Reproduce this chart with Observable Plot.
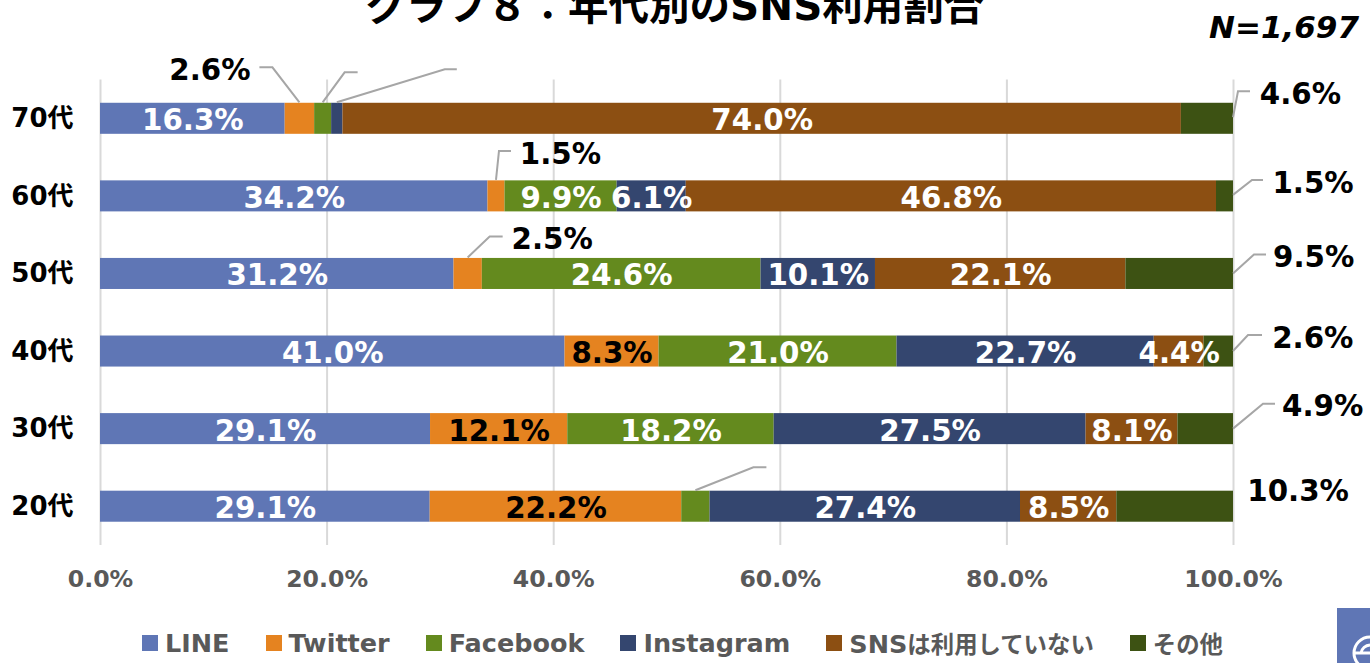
<!DOCTYPE html>
<html><head><meta charset="utf-8">
<script src="https://cdn.jsdelivr.net/npm/d3@7"></script>
<script src="https://cdn.jsdelivr.net/npm/@observablehq/plot@0.6"></script>
<style>
html,body{margin:0;padding:0;background:#fff;width:1370px;height:663px;overflow:hidden;position:relative;font-family:"DejaVu Sans","Noto Sans CJK JP",sans-serif}
#title{position:absolute;left:0;width:1350px;top:-27px;text-align:center;font-size:40.5px;font-weight:700;color:#000;white-space:nowrap}
#n{position:absolute;right:11px;top:9px;font-size:31px;font-weight:700;font-style:italic;color:#000}
#legend{position:absolute;left:142px;top:626px;display:flex;font-size:25.5px;font-weight:700;color:#595959;white-space:nowrap}
#legend .it{display:flex;align-items:center;margin-right:36px}
#legend i{display:block;width:16px;height:16px;margin-right:7px}
#legend .cjk{font-size:23.4px}
#badge{position:absolute;left:1337px;top:608px;width:33px;height:55px;background:#5f76b5;overflow:hidden}
#chart{position:absolute;left:0;top:0}
</style></head><body>
<div id="chart"></div>
<div id="title">グラフ８：年代別のSNS利用割合</div>
<div id="n">N=1,697</div>
<div id="legend"></div>
<div id="badge"><svg width="33" height="55"><circle cx="33" cy="45" r="16" fill="none" stroke="#fff" stroke-width="3"/><path d="M17 45H33M33 37A10 10 0 0 0 24 45" fill="none" stroke="#fff" stroke-width="3"/></svg></div>
<script>
const ages = ["70代","60代","50代","40代","30代","20代"];
const seriesNames = ["LINE","Twitter","Facebook","Instagram","SNSは利用していない","その他"];
const colors = ["#5f76b5","#e58320","#648a1e","#34466f","#8c4f12","#3d5213"];
const LINE = [16.3,34.2,31.2,41.0,29.1,29.1];
const Twitter = [2.6,1.5,2.5,8.3,12.1,22.2];
const Facebook = [1.5,9.9,24.6,21.0,18.2,2.5];
const Instagram = [1.0,6.1,10.1,22.7,27.5,27.4];
const NoSNS = [74.0,46.8,22.1,4.4,8.1,8.5];
const Other = [4.6,1.5,9.5,2.6,4.9,10.3];
const xTicks = [0,0.2,0.4,0.6,0.8,1];
const allValues = [LINE,Twitter,Facebook,Instagram,NoSNS,Other];

const rows = seriesNames.flatMap((s,si)=>ages.map((a,ai)=>({series:s,si,age:a,ai,value:allValues[si][ai]})));

// segments whose value sits outside the bar, or that have only an empty leader line.
// Offsets are pixels from the segment's anchor on the bar's centre line.
const outside = [
  {age:"70代",series:"Twitter",text:true,dx:-90,dy:-48,pts:[[0,-16],[-27,-51],[-40,-51]]},
  {age:"70代",series:"Facebook",text:false,pts:[[0,-16],[22,-46],[35,-46]]},
  {age:"70代",series:"Instagram",text:false,pts:[[0,-16],[108,-49],[120,-49]]},
  {age:"70代",series:"その他",text:true,dx:93,dy:-24,anchorEnd:true,pts:[[0,-1],[5,-27],[17,-27]]},
  {age:"60代",series:"Twitter",text:true,dx:64,dy:-42,pts:[[0,-16],[3,-45],[15,-45]]},
  {age:"60代",series:"その他",text:true,dx:88,dy:-13,anchorEnd:true,pts:[[0,-1],[19,-16],[30,-16]]},
  {age:"50代",series:"Twitter",text:true,dx:84,dy:-34,pts:[[0,-16],[22,-37],[35,-37]]},
  {age:"50代",series:"その他",text:true,dx:134,dy:-16,anchorEnd:true,pts:[[0,0],[21,-19],[33,-19]]},
  {age:"40代",series:"その他",text:true,dx:94,dy:-13,anchorEnd:true,pts:[[0,0],[15,-16],[29,-16]]},
  {age:"30代",series:"その他",text:true,dx:117,dy:-23,anchorEnd:true,pts:[[0,0],[30,-25],[42,-25]]},
  {age:"20代",series:"Facebook",text:false,pts:[[0,-16],[58,-39],[71,-39]]},
  {age:"20代",series:"その他",text:true,dx:123,dy:-15,pts:null}
];
const outsideKey = new Set(outside.map(o=>o.age+"|"+o.series));
function frac(age,series){
  const ai=ages.indexOf(age), si=seriesNames.indexOf(series);
  const tot=d3.sum(allValues,v=>v[ai]);
  const before=d3.sum(allValues.slice(0,si),v=>v[ai]);
  const own=allValues[si][ai];
  return {mid:(before+own/2)/tot, end:(before+own)/tot, value:own};
}
const FONT='"DejaVu Sans","Noto Sans CJK JP",sans-serif';
const stackOpts={x:"value",y:"age",z:"series",order:seriesNames,offset:"normalize"};

const plot = Plot.plot({
  width:1370,height:600,
  marginLeft:100,marginRight:137,marginTop:79.5,marginBottom:55,
  style:{fontFamily:FONT,background:"transparent",overflow:"visible"},
  x:{domain:[0,1],ticks:xTicks,label:null,tickFormat:d3.format(".1%")},
  y:{domain:ages,paddingInner:0.6,paddingOuter:0.3,align:0.5,round:false,label:null},
  color:{domain:seriesNames,range:colors},
  marks:[
    Plot.gridX(xTicks,{stroke:"#d9d9d9",strokeWidth:2,strokeOpacity:1}),
    Plot.axisX({ticks:xTicks,tickFormat:d3.format(".1%"),tickSize:0,tickPadding:25,fontSize:23.6,fontWeight:700,fill:"#595959",label:null}),
    Plot.axisY({tickSize:0,tickPadding:27,fontSize:26,fontWeight:700,fill:"#000",label:null}),
    Plot.barX(rows,Plot.stackX({...stackOpts,fill:"series"})),
    Plot.text(rows,Plot.stackX({...stackOpts,
      text:d=>outsideKey.has(d.age+"|"+d.series)?null:d.value.toFixed(1)+"%",
      fill:d=>d.series==="Twitter"?"#000":"#fff",dy:2,fontSize:29.3,fontWeight:700})),
    ...outside.filter(o=>o.text).map(o=>{
      const f=frac(o.age,o.series);
      return Plot.text([o],{x:()=>f.mid,y:"age",dx:o.dx,dy:o.dy,text:()=>f.value.toFixed(1)+"%",fontSize:29.3,fontWeight:700,fill:"#000"});
    }),
    (index,scales)=>{
      const g=d3.create("svg:g").attr("fill","none").attr("stroke","#a6a6a6").attr("stroke-width",2);
      const bw=scales.y.bandwidth();
      for(const o of outside){
        if(!o.pts) continue;
        const f=frac(o.age,o.series);
        const x0=scales.x(o.anchorEnd?f.end:f.mid);
        const y0=scales.y(o.age)+bw/2;
        g.append("path").attr("d","M"+o.pts.map(p=>[x0+p[0],y0+p[1]].join(",")).join("L"));
      }
      return g.node();
    }
  ]
});
document.getElementById("chart").append(plot);
const lg=d3.select("#legend");
seriesNames.forEach((s,i)=>{
  const it=lg.append("div").attr("class","it");
  it.append("i").style("background",colors[i]);
  const sp=it.append("span");
  const m=s.match(/^([A-Za-z]*)(.*)$/);
  if(m[1]) sp.append("span").text(m[1]);
  if(m[2]) sp.append("span").attr("class","cjk").text(m[2]);
});
</script>
</body></html>
